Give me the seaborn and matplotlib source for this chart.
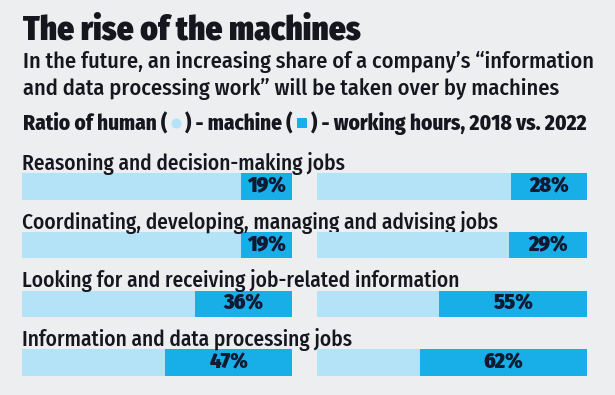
import matplotlib
matplotlib.use("Agg")
import matplotlib.pyplot as plt
import matplotlib.transforms as mtransforms
from matplotlib import font_manager as fm
from matplotlib.font_manager import FontProperties
from matplotlib.lines import Line2D
import numpy as np
import pandas as pd
import seaborn as sns

# ---------------- data ----------------
categories = [
    "Reasoning and decision-making jobs",
    "Coordinating, developing, managing and advising jobs",
    "Looking for and receiving job-related information",
    "Information and data processing jobs",
]
machine_2018 = [19, 19, 36, 47]
machine_2022 = [28, 29, 55, 62]
total_share = [100, 100, 100, 100]

title = "The rise of the machines"
subtitle_lines = [
    "In the future, an increasing share of a company\u2019s \u201cinformation",
    "and data processing work\u201d will be taken over by machines",
]
legend_texts = ["Ratio of human (", ") - machine (", ") - working hours, 2018 vs. 2022"]

# ---------------- style ----------------
BG = "#EDEEF0"
LIGHT = "#B4E3F8"
DARK = "#18AEE8"
TEXT = "#16161F"
NAVY = "#101A33"

sns.set_theme(style="white")

installed = {f.name for f in fm.fontManager.ttflist}
FAMILY = "Lato"
for cand in ["Fira Sans Condensed", "Encode Sans Condensed", "Asap Condensed",
             "Open Sans Condensed", "PT Sans Narrow", "Roboto Condensed"]:
    if cand in installed:
        FAMILY = cand
        break

plt.rcParams["font.family"] = [FAMILY, "DejaVu Sans"]

W, H = 615, 395
fig = plt.figure(figsize=(W / 100, H / 100), dpi=100, facecolor=BG)
renderer = fig.canvas.get_renderer()


def fy(y):
    return 1 - y / H


def text_width(s, size, weight):
    t = fig.text(0, 0, s, fontsize=size, fontweight=weight)
    w = t.get_window_extent(renderer).width
    t.remove()
    return w


def fit_size(s, target, weight):
    return 20 * target / text_width(s, 20, weight)


def cap_height(size, weight):
    prop = FontProperties(family=[FAMILY, "DejaVu Sans"], size=size, weight=weight)
    w, h, d = renderer.get_text_width_height_descent("H", prop, ismath=False)
    return (h - d) * 100 / 72 if h > 50 else (h - d)


# title
ts = fit_size(title, 336, "black")
fig.text(23 / W, fy(39), title, fontsize=ts, fontweight="black", color=TEXT,
         va="baseline", ha="left")

# subtitle
ss = fit_size(subtitle_lines[0], 573, "medium")
for i, line in enumerate(subtitle_lines):
    fig.text(23 / W, fy(68 + 27 * i), line, fontsize=ss, fontweight="medium", color=TEXT,
             va="baseline", ha="left")

# legend line: text pieces with swatches in the parentheses
gap, sw = 4.0, 10.0
LEG_W = "heavy"
base_w = sum(text_width(p, 20, LEG_W) for p in legend_texts)
ls = 20 * (566 - 2 * (2 * gap + sw)) / base_w
prop = FontProperties(family=[FAMILY, "DejaVu Sans"], size=ls, weight=LEG_W)
_, hh, dd = renderer.get_text_width_height_descent("H", prop, ismath=False)
cy = 130 - (hh - dd) / 2
x = 23.0
swatches = [("o", LIGHT), ("s", DARK), None]
for p, swt in zip(legend_texts, swatches):
    t = fig.text(x / W, fy(130), p, fontsize=ls, fontweight=LEG_W, color=TEXT,
                 va="baseline", ha="left")
    x = t.get_window_extent(renderer).x1
    if swt is not None:
        mk, col = swt
        cx = x + gap + sw / 2
        fig.add_artist(Line2D([cx / W], [fy(cy)], marker=mk, markersize=sw * 0.72,
                              color=col, markeredgewidth=0, linestyle="none",
                              transform=fig.transFigure))
        x = x + 2 * gap + sw

# ---------------- bars ----------------
unit = 176 / 3.0
top_px = 186.5 - unit / 2
bot_px = 362.5 + unit / 2
ax_h = (bot_px - top_px) / H
ax_b = 1 - bot_px / H

label_size = fit_size(categories[1], 478, "medium")
pct_size = fit_size("19%", 39, "black")

for x0, vals in [(22, machine_2018), (317, machine_2022)]:
    ax = fig.add_axes([x0 / W, ax_b, 270 / W, ax_h])
    df = pd.DataFrame({"category": categories, "total": total_share, "machine": vals})
    sns.barplot(data=df, y="category", x="total", orient="h", order=categories,
                color=LIGHT, saturation=1, width=0.45, linewidth=0, errorbar=None, ax=ax)
    sns.barplot(data=df, y="category", x="machine", orient="h", order=categories,
                color=DARK, saturation=1, width=0.45, linewidth=0, errorbar=None, ax=ax)
    ax.bar_label(ax.containers[-1], labels=[f"{v}%" for v in vals], label_type="center",
                 fontsize=pct_size, fontweight="black", color=NAVY)
    ax.set_xlim(100, 0)
    ax.set_ylim(3.5, -0.5)
    ax.axis("off")
    if x0 == 22:
        trans = mtransforms.blended_transform_factory(ax.transAxes, ax.transData)
        for i, cat in enumerate(categories):
            ax.text(0.0, i - 16.5 / unit, cat, transform=trans, fontsize=label_size,
                    fontweight="medium", color=TEXT, va="baseline", ha="left", clip_on=False)

fig.savefig("out.png", dpi=100, facecolor=BG)
